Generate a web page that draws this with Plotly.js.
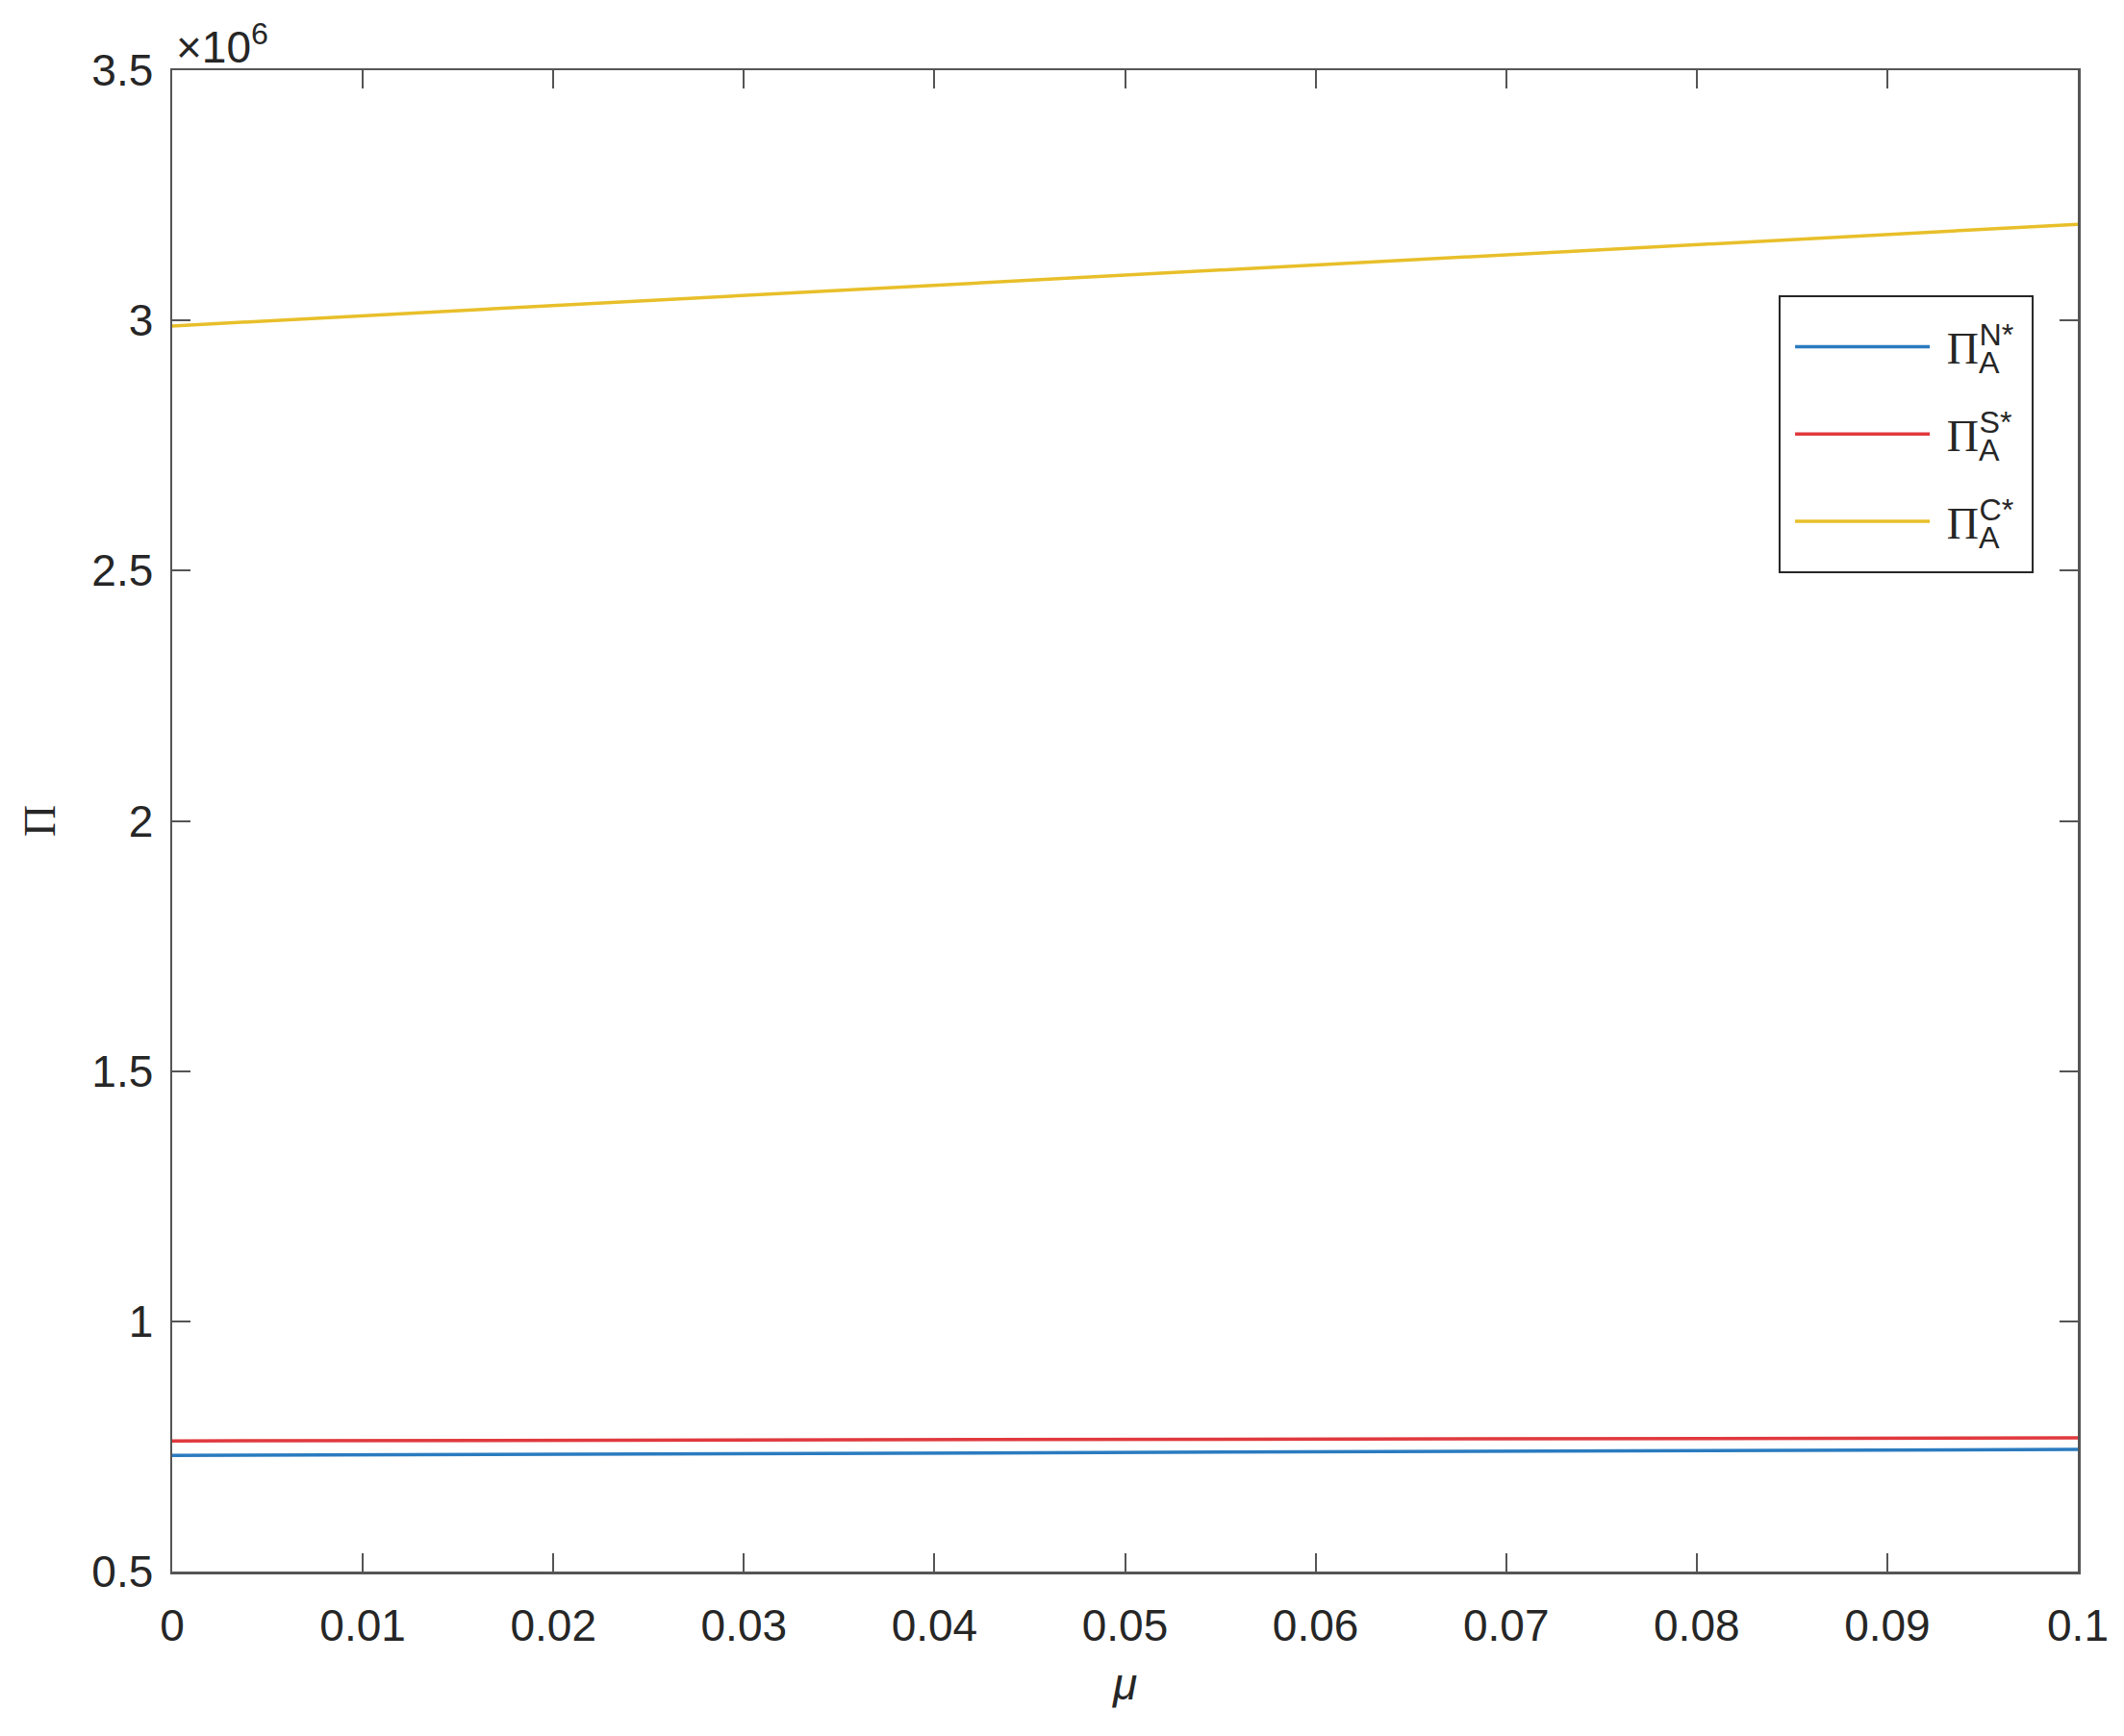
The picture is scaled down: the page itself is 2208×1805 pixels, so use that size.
<!DOCTYPE html>
<html>
<head>
<meta charset="utf-8">
<script src="https://cdn.plot.ly/plotly-3.0.1.min.js"></script>
<style>html,body{margin:0;padding:0;background:#fff;}</style>
</head>
<body>
<div id="chart" style="width:2208px;height:1805px;"></div>
<script>
// mu values (x) read at the start, middle and end of each line
const mu = [0, 0.05, 0.1];
// Profits (in units, scaled by 10^6 on the axis)
const piN = [0.732e6, 0.738e6, 0.744e6];
const piS = [0.761e6, 0.764e6, 0.767e6];
const piC = [2.989e6, 3.091e6, 3.192e6];
const seriesSup = ['N*', 'S*', 'C*'];
const seriesSub = 'A';
const xTickVals = [0, 0.01, 0.02, 0.03, 0.04, 0.05, 0.06, 0.07, 0.08, 0.09, 0.1];
const xTickText = ['0', '0.01', '0.02', '0.03', '0.04', '0.05', '0.06', '0.07', '0.08', '0.09', '0.1'];
const yTickVals = [0.5e6, 1e6, 1.5e6, 2e6, 2.5e6, 3e6, 3.5e6];
const yTickText = ['0.5', '1', '1.5', '2', '2.5', '3', '3.5'];

const colors = ['#2a7bbf', '#e0393e', '#e8bf2a'];
const ys = [piN, piS, piC];

function legendLabel(sup) {
  return '\u00A0<span style="font-family:Liberation Serif">Π</span>' +
    '<sub><span style="letter-spacing:-21px">' + seriesSub + '</span></sub>' +
    '<sup>' + sup + '</sup>';
}

const traces = ys.map((y, i) => ({
  x: mu, y: y, type: 'scatter', mode: 'lines',
  name: legendLabel(seriesSup[i]), legendgroup: 'g' + i,
  line: {color: colors[i], width: 3.5}
}));

const axisCommon = {
  showline: true, linecolor: '#555555', linewidth: 2.5, mirror: 'ticks',
  ticks: 'inside', ticklen: 19, tickwidth: 2, tickcolor: '#555555',
  showgrid: false, zeroline: false,
  tickfont: {family: 'Liberation Sans, Arial, sans-serif', size: 46, color: '#262626'}
};

const layout = {
  width: 2208, height: 1805,
  margin: {l: 179, r: 48, t: 73, b: 171},
  paper_bgcolor: '#ffffff', plot_bgcolor: '#ffffff',
  showlegend: true,
  xaxis: Object.assign({}, axisCommon, {
    range: [0, 0.1], tickmode: 'array', tickvals: xTickVals, ticktext: xTickText,
    ticklabelstandoff: 14,
    title: {text: '<i>μ</i>', standoff: 20,
      font: {family: 'Liberation Sans, Arial, sans-serif', size: 46, color: '#262626'}}
  }),
  yaxis: Object.assign({}, axisCommon, {
    range: [0.5e6, 3.5e6], tickmode: 'array', tickvals: yTickVals, ticktext: yTickText,
    ticklabelstandoff: 8,
    title: {text: 'Π', standoff: 23,
      font: {family: 'Liberation Serif, Times New Roman, serif', size: 46, color: '#262626'}}
  }),
  legend: {
    x: 0.8491, y: 0.8392, xanchor: 'left', yanchor: 'top',
    bgcolor: 'rgba(0,0,0,0)', borderwidth: 0,
    font: {family: 'Liberation Sans, Arial, sans-serif', size: 46, color: '#262626'},
    tracegroupgap: 28, itemwidth: 140
  },
  shapes: [{
    type: 'rect', xref: 'paper', yref: 'paper',
    x0: 0.8435, x1: 0.9763, y0: 0.6656, y1: 0.8494,
    line: {color: '#262626', width: 2}, fillcolor: '#ffffff', layer: 'above'
  }],
  annotations: [{
    xref: 'paper', yref: 'paper', x: 0, y: 1, xanchor: 'left', yanchor: 'bottom',
    xshift: 2, yshift: -4, showarrow: false,
    text: '×10<sup>6</sup>',
    font: {family: 'Liberation Sans, Arial, sans-serif', size: 46, color: '#262626'}
  }]
};

Plotly.newPlot('chart', traces, layout, {displayModeBar: false, staticPlot: true});
</script>
</body>
</html>
